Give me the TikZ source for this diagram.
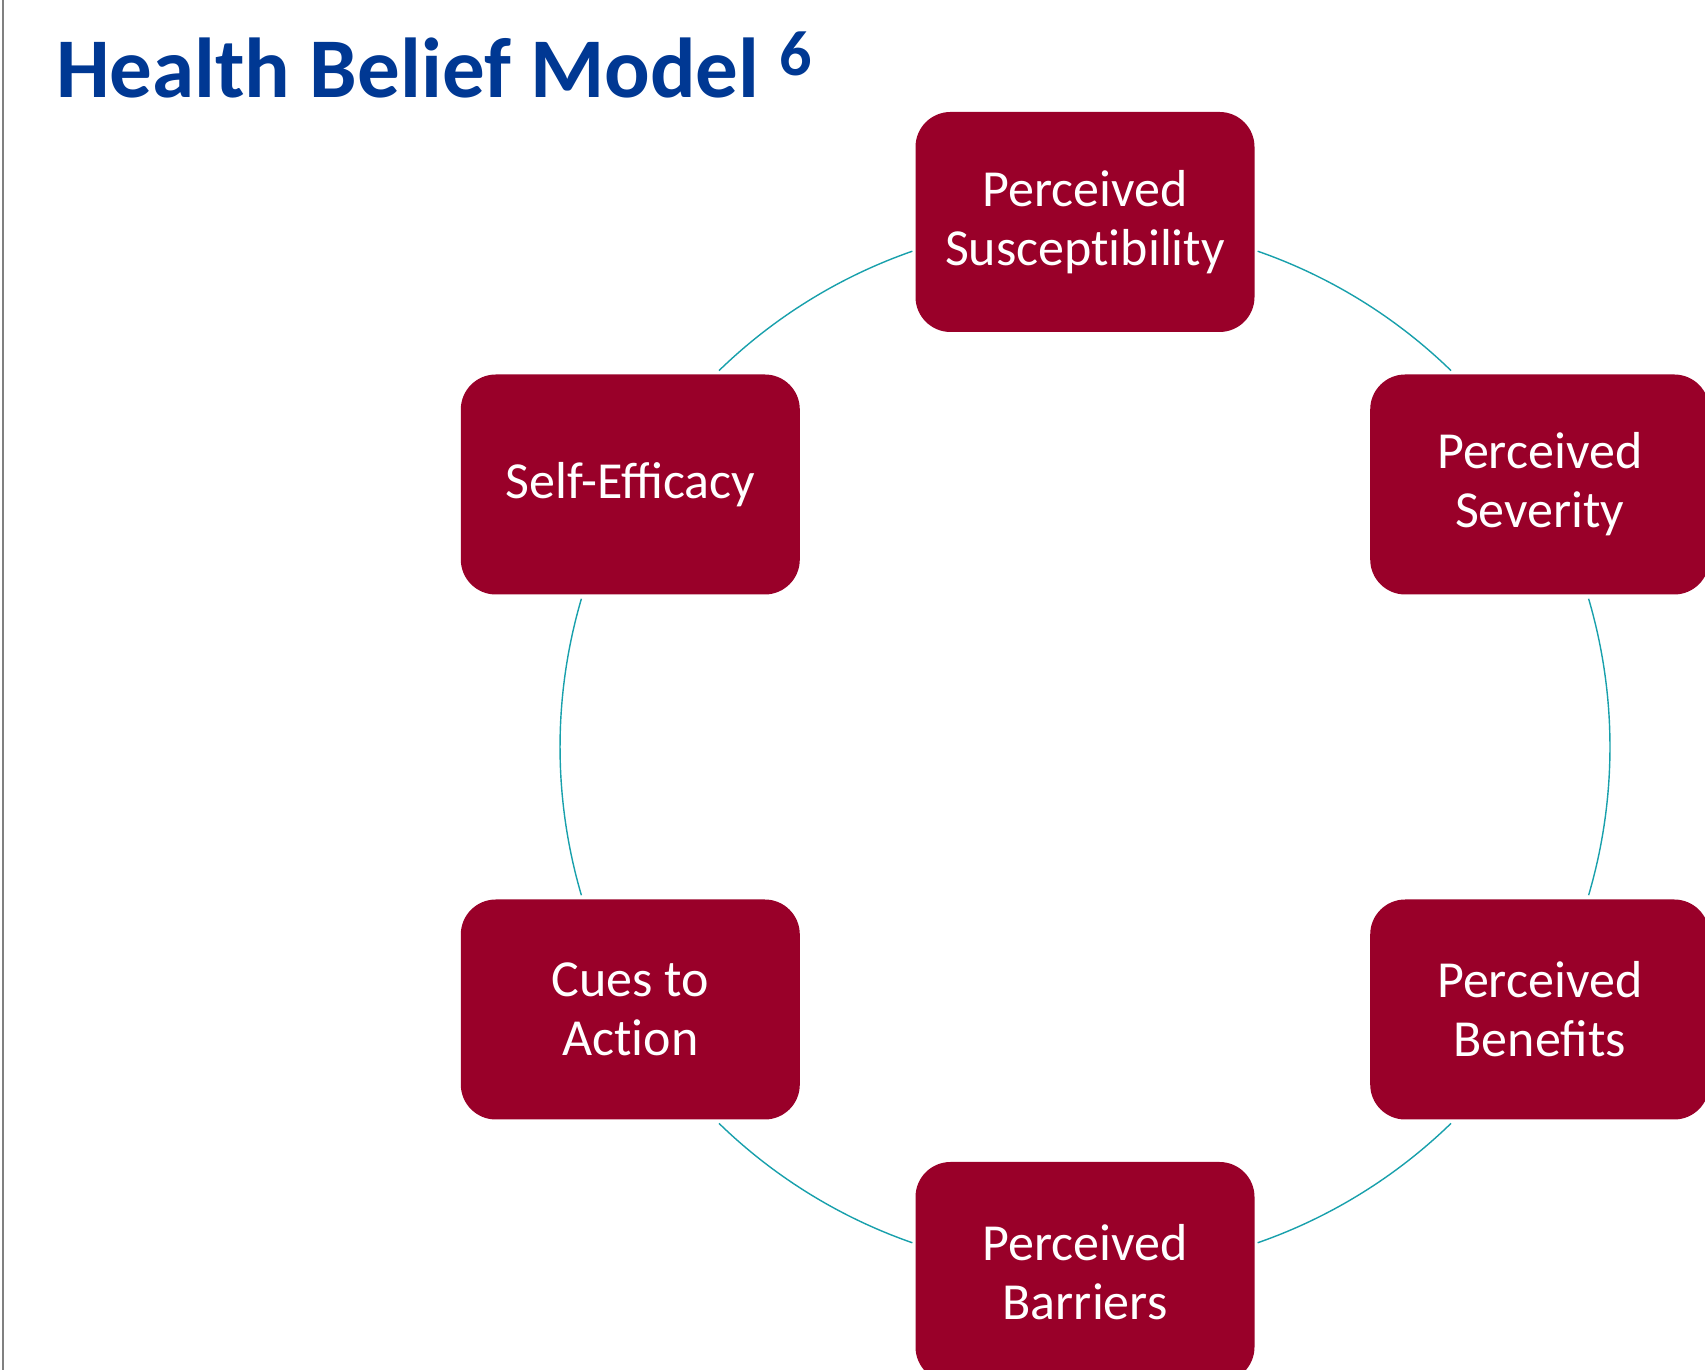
\documentclass[tikz,border=0pt]{standalone}
\usepackage{fontspec}
\setmainfont{Carlito}
\definecolor{boxred}{RGB}{153,0,41}
\definecolor{arcteal}{RGB}{24,160,172}
\definecolor{titleblue}{RGB}{0,56,147}
\begin{document}
\begin{tikzpicture}[x=1pt,y=1pt,
  hbox/.style={rectangle, rounded corners=35pt, fill=boxred, minimum width=339pt, minimum height=220pt, text=white, align=center, font=\fontsize{52}{59}\selectfont, inner sep=0pt},
  cyc/.style={draw=arcteal, line width=1.4pt}]
\useasboundingbox (0,0) rectangle (1705,1370);
\clip (0,0) rectangle (1705,1370);
\fill[white] (0,0) rectangle (1705,1370);
\draw[gray, line width=2pt] (3,0) -- (3,1370);
\node[anchor=base west, text=titleblue, inner sep=0pt, font=\fontsize{85}{90}\selectfont\bfseries] (title) at (56,1272) {Health Belief Model\hspace{20pt}\raisebox{22pt}{\fontsize{64}{68}\selectfont 6}};
\coordinate (c) at (1085,623);
\node[hbox] (sus) at (1085,1148) {Perceived\\Suscept\kern0pt ibility};
\node[hbox] (sev) at (1539.7,885.5) {Perceived\\Severity};
\node[hbox] (ben) at (1539.7,360.5) {Perceived\\Benefits};
\node[hbox] (bar) at (1085,98) {Perceived\\Barriers};
\node[hbox] (cue) at (630.3,360.5) {Cues to\\Act\kern0pt ion};
\node[hbox] (self) at (630.3,885.5) {Self-Efficacy};
\draw[cyc] ([shift={(70.8:525)}]c) arc[start angle=70.8, end angle=45.8, radius=525];
\draw[cyc] ([shift={(16.4:525)}]c) arc[start angle=16.4, end angle=-16.4, radius=525];
\draw[cyc] ([shift={(-45.8:525)}]c) arc[start angle=-45.8, end angle=-70.8, radius=525];
\draw[cyc] ([shift={(-109.2:525)}]c) arc[start angle=-109.2, end angle=-134.2, radius=525];
\draw[cyc] ([shift={(196.4:525)}]c) arc[start angle=196.4, end angle=163.6, radius=525];
\draw[cyc] ([shift={(134.2:525)}]c) arc[start angle=134.2, end angle=109.2, radius=525];
\end{tikzpicture}
\end{document}
